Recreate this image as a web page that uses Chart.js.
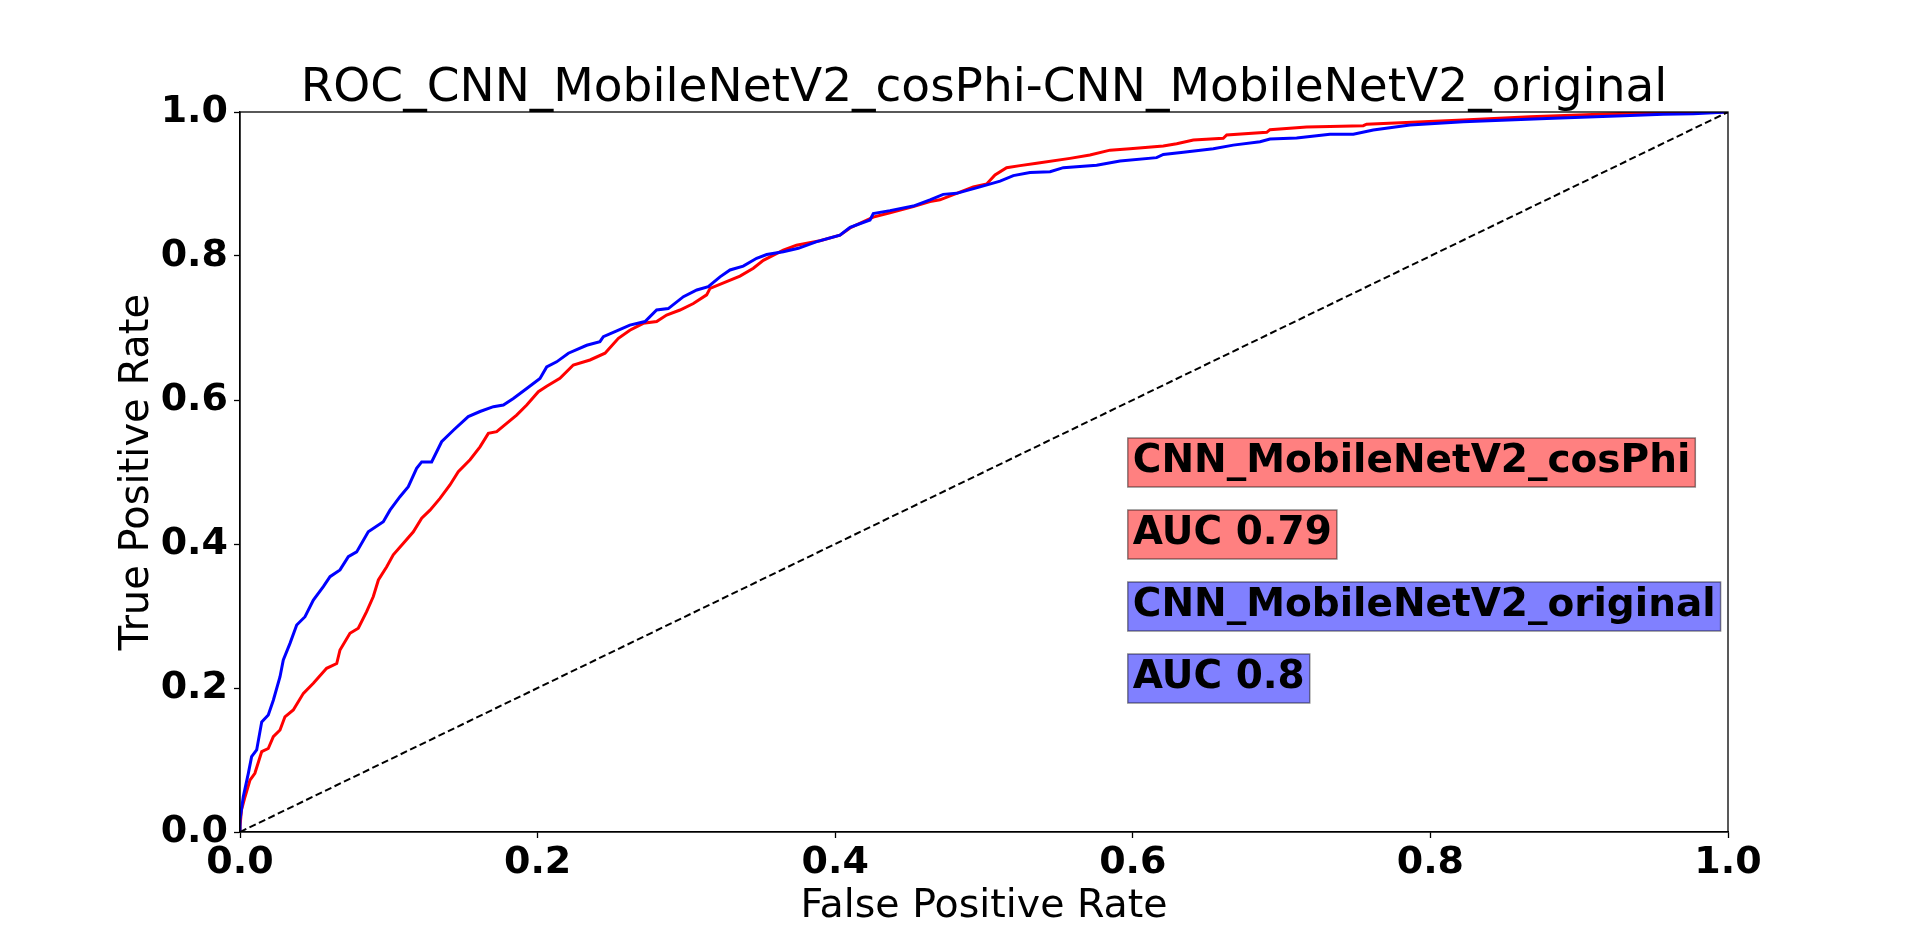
<!DOCTYPE html>
<html>
<head>
<meta charset="utf-8">
<title>ROC curve</title>
<script src="https://cdn.jsdelivr.net/npm/chart.js@4"></script>
<style>
  html, body { margin: 0; padding: 0; background: #fff; }
  canvas { display: block; }
</style>
</head>
<body>
<canvas id="rocChart" width="1920" height="935"></canvas>
<script>
// ROC data
const cosPhiFpr = [0, 0, 0.001, 0.0034, 0.0067, 0.01, 0.0146, 0.019, 0.0224, 0.0269, 0.0302, 0.0358, 0.0426, 0.0493, 0.0582, 0.065, 0.0672, 0.0739, 0.0795, 0.0851, 0.0896, 0.093, 0.0986, 0.103, 0.1098, 0.1165, 0.1221, 0.1277, 0.1344, 0.1411, 0.1467, 0.1546, 0.1613, 0.1669, 0.1725, 0.1792, 0.1859, 0.1927, 0.2005, 0.2061, 0.215, 0.224, 0.2352, 0.2453, 0.2543, 0.262, 0.271, 0.28, 0.2867, 0.2957, 0.3047, 0.3136, 0.3159, 0.327, 0.336, 0.345, 0.3517, 0.3651, 0.374, 0.3898, 0.4032, 0.41, 0.4256, 0.4368, 0.4525, 0.4637, 0.4704, 0.4816, 0.4928, 0.5018, 0.5074, 0.5152, 0.5242, 0.5354, 0.5578, 0.5712, 0.5847, 0.5981, 0.6205, 0.6295, 0.6407, 0.6608, 0.6631, 0.69, 0.6922, 0.7168, 0.7325, 0.7549, 0.7571, 0.8221, 0.8669, 0.9229, 0.9543, 1.0];
const cosPhiTpr = [0, 0.008, 0.0306, 0.049, 0.072, 0.0815, 0.1116, 0.116, 0.1324, 0.1417, 0.16, 0.1694, 0.1926, 0.2065, 0.2273, 0.234, 0.2528, 0.276, 0.283, 0.306, 0.327, 0.35, 0.3685, 0.385, 0.401, 0.417, 0.4357, 0.447, 0.4634, 0.482, 0.5005, 0.517, 0.535, 0.5537, 0.556, 0.5676, 0.579, 0.593, 0.6116, 0.619, 0.63, 0.6486, 0.6556, 0.665, 0.6856, 0.697, 0.7065, 0.709, 0.718, 0.725, 0.734, 0.746, 0.755, 0.7644, 0.772, 0.783, 0.794, 0.808, 0.815, 0.8213, 0.829, 0.839, 0.854, 0.86, 0.8685, 0.8755, 0.878, 0.887, 0.896, 0.9, 0.9125, 0.9227, 0.9255, 0.9287, 0.9356, 0.9403, 0.947, 0.949, 0.9528, 0.956, 0.961, 0.9634, 0.968, 0.9718, 0.9755, 0.979, 0.98, 0.981, 0.983, 0.9889, 0.9935, 0.9977, 0.9995, 1.0];

const originalFpr = [0, 0, 0.0022, 0.0056, 0.0078, 0.0112, 0.0146, 0.019, 0.0224, 0.0269, 0.0291, 0.0336, 0.0381, 0.0437, 0.0493, 0.056, 0.0605, 0.0672, 0.0728, 0.0784, 0.0862, 0.0963, 0.1008, 0.1075, 0.1131, 0.1187, 0.1221, 0.1288, 0.1355, 0.1434, 0.1534, 0.1613, 0.1703, 0.177, 0.1837, 0.1927, 0.2016, 0.2061, 0.2128, 0.2207, 0.233, 0.2419, 0.2442, 0.2532, 0.262, 0.2722, 0.28, 0.2878, 0.298, 0.307, 0.3147, 0.3226, 0.3293, 0.3382, 0.3472, 0.354, 0.3651, 0.3752, 0.3876, 0.4032, 0.41, 0.4234, 0.4256, 0.4368, 0.4525, 0.4637, 0.4726, 0.4816, 0.4973, 0.5108, 0.5197, 0.5309, 0.5444, 0.5533, 0.5757, 0.5914, 0.616, 0.6205, 0.634, 0.6541, 0.6675, 0.6855, 0.6922, 0.7101, 0.7325, 0.7482, 0.7616, 0.7863, 0.8221, 0.8782, 0.9297, 0.9565, 0.9767, 1.0];
const originalTpr = [0, 0.017, 0.049, 0.0815, 0.1046, 0.114, 0.153, 0.1625, 0.183, 0.2157, 0.239, 0.262, 0.2875, 0.299, 0.322, 0.3407, 0.3546, 0.364, 0.3824, 0.389, 0.417, 0.431, 0.447, 0.4657, 0.4796, 0.505, 0.514, 0.514, 0.542, 0.558, 0.577, 0.584, 0.5907, 0.593, 0.602, 0.616, 0.63, 0.646, 0.653, 0.665, 0.676, 0.681, 0.688, 0.696, 0.704, 0.709, 0.725, 0.727, 0.7435, 0.7528, 0.7574, 0.771, 0.7806, 0.786, 0.7968, 0.802, 0.806, 0.8107, 0.82, 0.829, 0.8398, 0.85, 0.859, 0.863, 0.8694, 0.878, 0.8856, 0.887, 0.896, 0.904, 0.9116, 0.916, 0.917, 0.9227, 0.926, 0.932, 0.9366, 0.941, 0.944, 0.949, 0.954, 0.9588, 0.9625, 0.964, 0.969, 0.969, 0.975, 0.982, 0.9866, 0.991, 0.9949, 0.9968, 0.9977, 1.0];

const chanceLine = [0, 1];
const tickValues = [0, 0.2, 0.4, 0.6, 0.8, 1.0];

const chartTitle = 'ROC_CNN_MobileNetV2_cosPhi-CNN_MobileNetV2_original';
const xAxisLabel = 'False Positive Rate';
const yAxisLabel = 'True Positive Rate';

// text boxes inside the plot: label, x, y (baseline, data units)
const boxTexts = ['CNN_MobileNetV2_cosPhi', 'AUC 0.79', 'CNN_MobileNetV2_original', 'AUC 0.8'];
const boxX = [0.6, 0.6, 0.6, 0.6];
const boxY = [0.5, 0.4, 0.3, 0.2];
const boxColors = ['#ff8080', '#ff8080', '#8080ff', '#8080ff'];

const FONT = "'DejaVu Sans', 'Liberation Sans', sans-serif";

function toPoints(xs, ys) {
    return xs.map((x, i) => ({ x: x, y: ys[i] }));
}

// frame, title, axis labels and the AUC boxes
const decorations = {
    id: 'decorations',
    afterDatasetsDraw(chart) {
        const ctx = chart.ctx;
        const area = chart.chartArea;
        const xs = chart.scales.x;
        const ys = chart.scales.y;
        ctx.save();

        ctx.strokeStyle = '#000';
        ctx.lineWidth = 1.3;
        ctx.strokeRect(area.left, area.top, area.right - area.left, area.bottom - area.top);

        ctx.fillStyle = '#000';
        ctx.textAlign = 'center';
        ctx.textBaseline = 'alphabetic';
        ctx.font = '47px ' + FONT;
        ctx.fillText(chartTitle, (area.left + area.right) / 2, 101);

        ctx.font = '39.5px ' + FONT;
        ctx.fillText(xAxisLabel, (area.left + area.right) / 2, 917);

        ctx.save();
        ctx.translate(148, (area.top + area.bottom) / 2);
        ctx.rotate(-Math.PI / 2);
        ctx.font = '40px ' + FONT;
        ctx.fillText(yAxisLabel, 0, 0);
        ctx.restore();

        ctx.font = 'bold 39px ' + FONT;
        ctx.textAlign = 'left';
        boxTexts.forEach((txt, i) => {
            const px = xs.getPixelForValue(boxX[i]);
            const py = ys.getPixelForValue(boxY[i]);
            const w = ctx.measureText(txt).width;
            const left = px - 5;
            const top = py - 34;
            const width = w + 10;
            const height = 49;
            ctx.fillStyle = boxColors[i];
            ctx.fillRect(left, top, width, height);
            ctx.strokeStyle = 'rgba(0,0,0,0.45)';
            ctx.lineWidth = 1.5;
            ctx.strokeRect(left, top, width, height);
            ctx.fillStyle = '#000';
            ctx.fillText(txt, px, py);
        });

        ctx.restore();
    }
};

const tickFont = { family: FONT, size: 38, weight: 'bold' };

const rocChart = new Chart(document.getElementById('rocChart'), {
    type: 'line',
    data: {
        datasets: [
            {
                label: 'chance',
                data: toPoints(chanceLine, chanceLine),
                borderColor: '#000',
                borderWidth: 2,
                borderDash: [7, 3.5],
                pointRadius: 0,
                order: 0
            },
            {
                label: 'CNN_MobileNetV2_original',
                data: toPoints(originalFpr, originalTpr),
                borderColor: '#0000ff',
                borderWidth: 3,
                pointRadius: 0,
                tension: 0,
                order: 1
            },
            {
                label: 'CNN_MobileNetV2_cosPhi',
                data: toPoints(cosPhiFpr, cosPhiTpr),
                borderColor: '#ff0000',
                borderWidth: 3,
                pointRadius: 0,
                tension: 0,
                order: 2
            }
        ]
    },
    options: {
        responsive: false,
        devicePixelRatio: 1,
        animation: false,
        layout: {
            padding: { left: 0, top: 112, right: 192, bottom: 0 }
        },
        plugins: {
            legend: { display: false },
            tooltip: { enabled: false },
            title: { display: false }
        },
        scales: {
            x: {
                type: 'linear',
                min: 0,
                max: 1,
                afterFit: (scale) => { scale.height = 103; },
                afterBuildTicks: (scale) => { scale.ticks = tickValues.map(v => ({ value: v })); },
                border: { color: '#000', width: 1.3 },
                grid: { drawOnChartArea: false, tickLength: 6, tickColor: '#000', tickWidth: 1.3 },
                ticks: {
                    autoSkip: false,
                    maxRotation: 0,
                    padding: 2,
                    color: '#000',
                    font: tickFont,
                    callback: (v) => Number(v).toFixed(1)
                }
            },
            y: {
                type: 'linear',
                min: 0,
                max: 1,
                afterFit: (scale) => { scale.width = 240; },
                afterBuildTicks: (scale) => { scale.ticks = tickValues.map(v => ({ value: v })); },
                border: { color: '#000', width: 1.3 },
                grid: { drawOnChartArea: false, tickLength: 6, tickColor: '#000', tickWidth: 1.3 },
                ticks: {
                    autoSkip: false,
                    padding: 6,
                    color: '#000',
                    font: tickFont,
                    callback: (v) => Number(v).toFixed(1)
                }
            }
        }
    },
    plugins: [decorations]
});
</script>
</body>
</html>
